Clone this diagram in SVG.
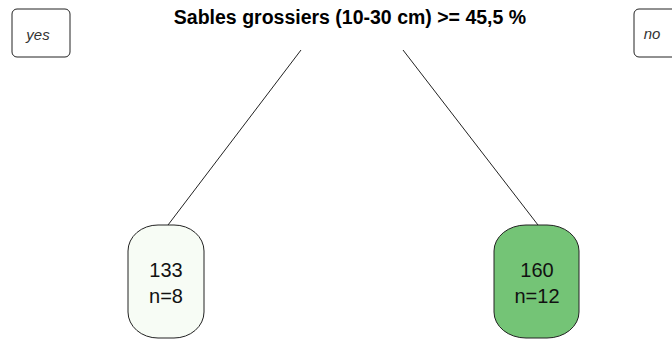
<svg xmlns="http://www.w3.org/2000/svg" width="672" height="340" viewBox="0 0 672 340">
<style>
.lbl{fill:#fff;stroke:#222;stroke-width:1}
.lt{font-family:"Liberation Sans",Arial,sans-serif;font-style:italic;font-size:15px;fill:#333;text-anchor:middle}
.node{stroke:#222;stroke-width:1}
.nt{font-family:"Liberation Sans",Arial,sans-serif;font-size:20px;fill:#111;text-anchor:middle}
.title{font-family:"Liberation Sans",Arial,sans-serif;font-weight:bold;font-size:19.5px;fill:#000;text-anchor:middle}
.edge{stroke:#222;stroke-width:1;fill:none}
</style>
<rect width="672" height="340" fill="#fff"/>
<g id="connectors">
<line class="edge" x1="301" y1="50" x2="168" y2="225"/>
<line class="edge" x1="403" y1="50" x2="538" y2="225"/>
</g>
<g id="yes">
<rect class="lbl" x="12" y="9" width="58" height="48" rx="5" ry="5"/>
<text class="lt" x="38" y="40">yes</text>
</g>
<g id="no">
<rect class="lbl" x="634" y="9" width="58" height="48" rx="5" ry="5"/>
<text class="lt" x="652" y="39">no</text>
</g>
<g id="root">
<text class="title" x="350" y="24">Sables grossiers (10-30 cm) &gt;= 45,5 %</text>
</g>
<g id="leaf1">
<rect class="node" x="128" y="225" width="76" height="113" rx="30" ry="26" fill="#f7fcf5"/>
<text class="nt" x="166" y="277">133</text>
<text class="nt" x="166" y="303">n=8</text>
</g>
<g id="leaf2">
<rect class="node" x="494" y="225" width="85" height="113" rx="32" ry="26" fill="#74c476"/>
<text class="nt" x="537" y="277">160</text>
<text class="nt" x="537" y="303">n=12</text>
</g>
</svg>
